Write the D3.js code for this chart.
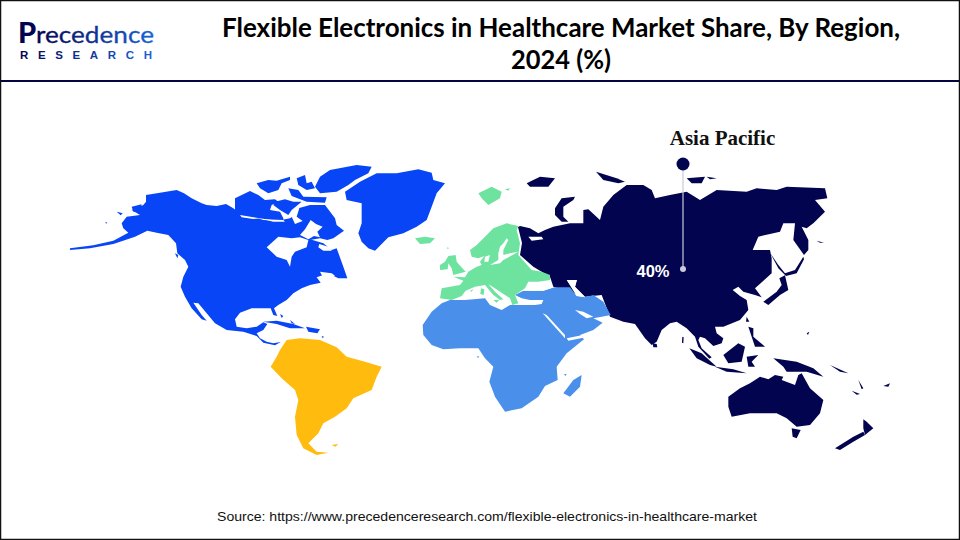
<!DOCTYPE html>
<html><head><meta charset="utf-8">
<script src="https://d3js.org/d3.v7.min.js"></script>
<style>html,body{margin:0;padding:0;background:#fff}svg{display:block}</style>
</head><body><svg id="c" width="960" height="540"></svg>
<script>
const titleLines = ["Flexible Electronics in Healthcare Market Share, By Region,", "2024 (%)"];
const titleWidths = [678, 100];
const sourceText = "Source: https://www.precedenceresearch.com/flexible-electronics-in-healthcare-market";
const calloutRegion = "Asia Pacific";
const calloutValue = "40%";
const regionColors = {na:"#0745f7", sa:"#ffbb0e", eu:"#6ee3a0", mea:"#4a90ea", ap:"#02044f"};

// Map outlines, traced on map sheets (west, arctic, middle, europe, east)
const northAmerica = [[[350,90],[372,100],[395,115],[425,130],[440,135],[470,138],[498,132],[520,145],[538,160],[555,172],[585,172],[610,180],[650,182],[690,178],[705,195],[695,212],[705,222],[725,208],[745,225],[750,238],[790,250],[815,270],[830,265],[850,320],[862,355],[835,355],[815,345],[790,345],[770,352],[782,368],[750,375],[725,385],[700,400],[680,420],[655,435],[642,445],[652,468],[640,465],[632,445],[615,445],[575,445],[540,458],[525,478],[530,500],[560,505],[590,500],[610,487],[622,492],[610,510],[590,520],[600,535],[620,545],[640,550],[662,546],[645,556],[610,548],[590,528],[550,515],[500,510],[465,490],[440,460],[415,430],[400,428],[425,465],[440,482],[425,478],[395,445],[375,410],[362,380],[370,350],[385,320],[375,300],[352,280],[348,250],[325,225],[290,218],[262,212],[225,230],[160,252],[90,265],[30,270],[30,265],[100,256],[160,242],[205,218],[190,205],[185,190],[200,170],[240,165],[215,150],[250,135],[258,125],[258,105],[300,98]],
 [[855,95],[900,65],[950,40],[1010,40],[1075,28],[1115,38],[1120,60],[1155,70],[1130,100],[1115,140],[1100,180],[1070,200],[1030,220],[985,232],[945,272],[925,265],[905,245],[895,220],[905,190],[905,130],[860,120]],
 [[610,485],[650,482],[700,492],[735,505],[690,505],[650,492]],[[738,500],[780,508],[772,520],[745,515]],[[785,528],[792,530],[788,535]],[[660,462],[670,468],[665,474]],[[690,480],[705,492],[695,490]],
 [[170,155],[188,160],[182,166]],[[215,140],[245,133],[240,155],[220,155]],[[136,185],[142,188],[138,191]],[[345,280],[355,285],[352,295]]];
const canadaArctic = [[[-15,115],[30,93],[55,105],[75,120],[105,118],[115,125],[95,135],[90,150],[120,155],[130,175],[130,185],[80,178],[40,172],[0,178],[-15,155]],
 [[100,185],[150,175],[165,165],[175,145],[210,135],[255,135],[285,175],[290,195],[312,212],[280,235],[262,240],[240,235],[210,240],[150,235],[100,200]],
 [[50,70],[85,60],[110,62],[150,50],[150,60],[125,70],[115,90],[85,100],[60,85]],
 [[170,55],[195,45],[200,70],[215,65],[225,85],[200,90],[175,75]],
 [[225,80],[240,50],[270,30],[350,15],[395,20],[385,40],[345,60],[325,75],[290,95],[240,100]],
 [[145,85],[175,90],[190,110],[260,112],[255,128],[200,125],[155,108]],
 [[105,125],[135,118],[160,125],[185,125],[155,150],[145,165],[120,150],[100,135]]];
const arcticWater = [[[0,165],[40,172],[60,175],[40,177],[5,172]],[[70,178],[130,180],[135,185],[100,185]],
 [[168,142],[178,145],[170,170],[188,183],[165,192],[155,170]],
 [[212,180],[228,192],[248,200],[232,215],[240,232],[222,228],[205,238],[180,225],[195,208]],
 [[80,262],[115,230],[155,235],[180,232],[205,240],[200,262],[165,275],[155,290],[150,320],[140,300],[110,290]],
 [[238,252],[270,262],[275,272],[250,272],[235,262]]];
const southAmerica = [[[660,570],[680,540],[720,535],[780,540],[830,562],[860,590],[915,605],[965,620],[950,650],[935,690],[880,715],[860,745],[825,770],[790,790],[775,820],[745,850],[770,875],[805,878],[770,885],[730,865],[710,825],[705,770],[715,720],[705,690],[665,655],[632,620],[650,590]],
 [[815,855],[835,852],[826,860]]];
const westWater = [[[780,335],[815,340],[825,347],[790,355]]];

const europe = [[[250,18],[215,10],[175,25],[150,50],[125,75],[105,90],[110,110],[130,115],[148,108],[135,125],[140,135],[125,140],[100,155],[90,172],[55,170],[85,182],[75,195],[20,205],[15,235],[50,240],[80,228],[92,212],[120,200],[150,195],[175,225],[195,240],[205,238],[180,215],[160,192],[225,235],[232,255],[250,250],[240,225],[270,205],[280,185],[310,185],[345,180],[345,165],[320,155],[290,150],[250,105],[255,70],[245,30]],
 [[40,108],[62,105],[65,125],[78,140],[92,155],[55,165],[50,145],[40,130],[38,148],[15,150],[15,135],[30,125]],
 [[138,205],[148,208],[146,225],[136,222]],[[175,240],[192,240],[185,248]],[[105,212],[115,208],[110,215]],[[36,82],[42,84],[38,88]]];
const europeWater = [[[215,55],[220,60],[205,90],[205,105],[225,100],[250,95],[215,115],[205,120],[195,130],[165,135],[190,120],[190,100],[195,80],[205,70]],
 [[150,110],[165,105],[160,125],[148,125]],[[280,50],[320,50],[325,58],[290,62]]];
const northAtlanticIslands = [[[15,205],[45,200],[75,205],[60,220],[30,222]],
 [[205,70],[245,50],[275,65],[270,85],[235,105],[215,85]],[[285,58],[300,55],[295,62]]];
const africaMideast = [[[120,390],[95,400],[65,425],[38,465],[40,495],[65,525],[100,538],[150,535],[205,535],[225,565],[250,590],[238,635],[255,680],[285,725],[335,715],[385,680],[405,648],[443,630],[440,590],[470,550],[522,508],[510,495],[550,480],[578,458],[550,445],[575,440],[602,435],[580,395],[550,375],[525,382],[500,378],[480,352],[432,352],[400,362],[340,362],[315,375],[335,385],[360,390],[400,390],[395,402],[375,405],[300,405],[275,420],[240,405],[225,385],[165,390]],
 [[490,630],[515,615],[510,650],[480,680],[460,670]],[[462,612],[470,612],[466,618]],[[200,558],[208,560],[204,564]]];
const midWater = [[[398,430],[410,435],[465,495],[465,505]],[[470,505],[545,490],[520,503],[475,512]],[[495,420],[520,425],[550,440],[530,445],[510,432]],[[470,330],[500,330],[495,350],[525,380],[500,378]],[[345,338],[385,338],[432,352],[400,362],[340,362]]];

const asiaPacific = [[[0,318],[30,325],[55,340],[75,330],[100,320],[150,310],[190,310],[190,270],[205,268],[240,300],[250,260],[280,225],[320,195],[370,195],[395,210],[405,235],[450,225],[500,215],[540,240],[590,210],[680,215],[710,205],[770,210],[800,200],[915,205],[922,235],[885,240],[915,275],[880,310],[860,325],[845,320],[865,360],[865,390],[852,405],[820,360],[825,310],[790,310],[780,335],[715,350],[698,390],[750,390],[755,415],[755,460],[705,505],[725,532],[705,525],[670,515],[655,500],[638,510],[660,528],[680,540],[685,570],[660,600],[610,620],[585,620],[590,640],[610,655],[605,670],[580,678],[555,655],[540,650],[535,660],[545,685],[575,712],[568,716],[535,680],[525,650],[500,625],[470,605],[450,610],[425,630],[410,665],[395,675],[375,655],[345,612],[310,605],[270,590],[245,525],[195,530],[100,500],[90,470],[40,440],[0,405],[6,369],[-6,321]],
 [[750,398],[775,435],[795,460],[825,450],[850,410],[852,418],[830,460],[798,468],[775,445]],
 [[778,475],[795,466],[805,510],[780,525],[745,555],[730,545],[770,515],[785,495]],
 [[105,265],[125,235],[165,230],[160,240],[130,260],[130,290],[145,305],[125,305],[105,285]],
 [[20,190],[60,170],[105,175],[85,200],[30,200]],[[228,155],[290,175],[315,185],[295,190],[250,180]],
 [[500,175],[555,170],[545,190],[515,190]],[[560,170],[590,175],[570,178]],
 [[508,685],[545,700],[590,740],[570,735],[530,715]],[[585,740],[640,748],[680,760],[620,755]],
 [[610,705],[655,670],[675,680],[665,725],[625,730]],[[680,710],[715,705],[695,725],[705,740],[685,740]],
 [[685,620],[700,625],[700,650],[735,680],[705,680],[695,650]],
 [[760,715],[830,725],[880,745],[910,770],[860,755],[800,755],[790,740]],[[680,590],[688,605],[678,605]],
 [[398,670],[410,672],[412,682],[400,682]],[[487,650],[491,652],[490,670],[486,668]],
 [[625,830],[660,805],[690,790],[720,770],[745,778],[765,765],[790,770],[785,780],[825,795],[835,765],[845,760],[870,805],[910,840],[900,880],[870,915],[830,920],[800,895],[770,880],[730,880],[690,880],[635,890],[625,860]],
 [[815,925],[842,930],[830,955],[818,950]],[[1030,898],[1040,905],[1060,925],[1035,945],[1030,925]],[[945,985],[1000,950],[1030,935],[1035,945],[1000,965],[960,990]],
 [[1090,798],[1110,790],[1105,800]],[[995,812],[1020,822],[1010,824]],[[1015,780],[1030,805],[1025,808]],[[930,735],[985,760],[960,755]],[[860,640],[868,635],[864,645]],[[890,362],[912,368],[900,368]]];
const eastWater = [[[141,480],[171,480],[165,501],[195,531],[170,525]]];

// Sheets map their traced units onto the page
const sheet = (x0,y0,w,h)=>({x:d3.scaleLinear().domain([0,w*3]).range([x0,x0+w]), y:d3.scaleLinear().domain([0,h*3]).range([y0,y0+h])});
const west = sheet(60,160,400,300), arctic = sheet(240,160,140,110), mid = sheet(410,170,260,250), eur = sheet(435,220,130,100), east = sheet(520,120,380,330);

const svg = d3.select("#c");
svg.append("rect").attr("width",960).attr("height",540).attr("fill","#fff");

const drawPolys = (polys, s, fill) => {
  const line = d3.line().x(d=>s.x(d[0])).y(d=>s.y(d[1])).curve(d3.curveLinearClosed);
  svg.append("g").selectAll("path").data(polys).join("path").attr("d",line).attr("fill",fill);
};
drawPolys(asiaPacific, east, regionColors.ap);
drawPolys(eastWater, east, "#fff");
drawPolys(africaMideast, mid, regionColors.mea);
drawPolys(midWater, mid, "#fff");
drawPolys(europe, eur, regionColors.eu);
drawPolys(northAtlanticIslands, mid, regionColors.eu);
drawPolys(europeWater, eur, "#fff");
drawPolys(northAmerica, west, regionColors.na);
drawPolys(canadaArctic, arctic, regionColors.na);
drawPolys(arcticWater, arctic, "#fff");
drawPolys(westWater, west, "#fff");
drawPolys(southAmerica, west, regionColors.sa);

// Header
svg.append("line").attr("x1",0).attr("x2",960).attr("y1",81).attr("y2",81).attr("stroke","#04053f").attr("stroke-width",2);
svg.append("rect").attr("x",0.5).attr("y",0.5).attr("width",959).attr("height",539).attr("fill","none").attr("stroke","#111").attr("stroke-width",1.5);
svg.selectAll(".t").data(titleLines).join("text").attr("class","t")
  .attr("x",561).attr("y",(d,i)=>37+i*32).attr("text-anchor","middle")
  .attr("font-family","Lato").attr("font-weight",700).attr("font-size",27).attr("fill","#000")
  .attr("textLength",(d,i)=>titleWidths[i]).attr("lengthAdjust","spacingAndGlyphs").text(d=>d);

// Logo
const defs = svg.append("defs");
const lg = defs.append("linearGradient").attr("id","lg");
lg.append("stop").attr("offset","0").attr("stop-color","#02044f");
lg.append("stop").attr("offset","1").attr("stop-color","#1a63d8");
svg.append("text").attr("x",18).attr("y",43).attr("font-family","Lato").attr("font-weight",900).attr("font-size",29).attr("fill","#02044f").text("P");
svg.append("text").attr("x",36).attr("y",43).attr("font-family","Lato").attr("font-size",24).attr("fill","url(#lg)").attr("textLength",118).attr("lengthAdjust","spacingAndGlyphs").attr("stroke","url(#lg)").attr("stroke-width",0.3).text("recedence");
svg.append("text").attr("x",20).attr("y",59).attr("font-family","Liberation Sans").attr("font-weight",700).attr("font-size",11.5).attr("fill","url(#lg)").attr("textLength",132).text("RESEARCH");

// Callout
svg.append("line").attr("x1",683).attr("x2",683).attr("y1",164).attr("y2",269).attr("stroke","#c9cadb").attr("stroke-width",1.2);
svg.append("circle").attr("cx",683).attr("cy",164).attr("r",6.5).attr("fill",regionColors.ap);
svg.append("circle").attr("cx",683).attr("cy",269).attr("r",3).attr("fill","#c9cadb");
svg.append("text").attr("x",722.5).attr("y",145).attr("text-anchor","middle").attr("font-family","Liberation Serif").attr("font-weight",700).attr("font-size",21).attr("fill","#111").text(calloutRegion);
svg.append("text").attr("x",653).attr("y",277).attr("text-anchor","middle").attr("font-family","Liberation Sans").attr("font-weight",700).attr("font-size",16.5).attr("fill","#fff").text(calloutValue);
svg.append("text").attr("x",487).attr("y",521).attr("text-anchor","middle").attr("font-family","Liberation Sans").attr("font-size",13).attr("fill","#111").attr("textLength",540).attr("lengthAdjust","spacingAndGlyphs").text(sourceText);
</script></body></html>
